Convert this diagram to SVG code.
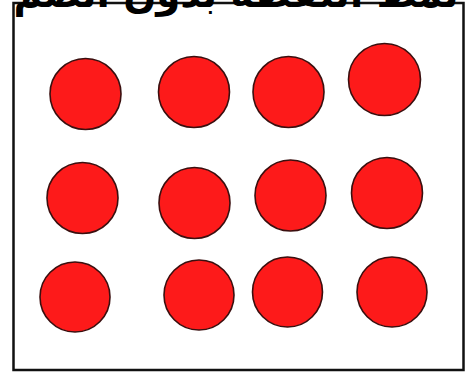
<svg xmlns="http://www.w3.org/2000/svg" width="472" height="374" viewBox="0 0 472 374">
<style>
.dot{fill:#fd1a1a;stroke:#3a0f0f;stroke-width:1.6}
.frame{fill:none;stroke:#111;stroke-width:2.5}
.title{font-family:"DejaVu Sans","Noto Sans",sans-serif;font-size:40px;font-weight:bold;fill:#000}
</style>
<rect width="472" height="374" fill="#fff"/>
<rect class="frame" x="13.5" y="3" width="450" height="367"/>
<text class="title" x="236" y="7" text-anchor="middle" direction="rtl" textLength="445" lengthAdjust="spacingAndGlyphs">نمط النقطة بدون الضم</text>
<g id="dots">
<g id="r1c1"><circle class="dot" cx="85.5" cy="94" r="35.5"/></g>
<g id="r1c2"><circle class="dot" cx="194" cy="92" r="35.5"/></g>
<g id="r1c3"><circle class="dot" cx="288.5" cy="92" r="35.5"/></g>
<g id="r1c4"><circle class="dot" cx="384.5" cy="79.5" r="36"/></g>
<g id="r2c1"><circle class="dot" cx="82.5" cy="198" r="35.5"/></g>
<g id="r2c2"><circle class="dot" cx="194.5" cy="203" r="35.5"/></g>
<g id="r2c3"><circle class="dot" cx="290.5" cy="195.5" r="35.5"/></g>
<g id="r2c4"><circle class="dot" cx="387" cy="193" r="35.5"/></g>
<g id="r3c1"><circle class="dot" cx="75" cy="297" r="35"/></g>
<g id="r3c2"><circle class="dot" cx="199" cy="295" r="35"/></g>
<g id="r3c3"><circle class="dot" cx="287.5" cy="292" r="35"/></g>
<g id="r3c4"><circle class="dot" cx="392" cy="292" r="35"/></g>
</g>
</svg>
